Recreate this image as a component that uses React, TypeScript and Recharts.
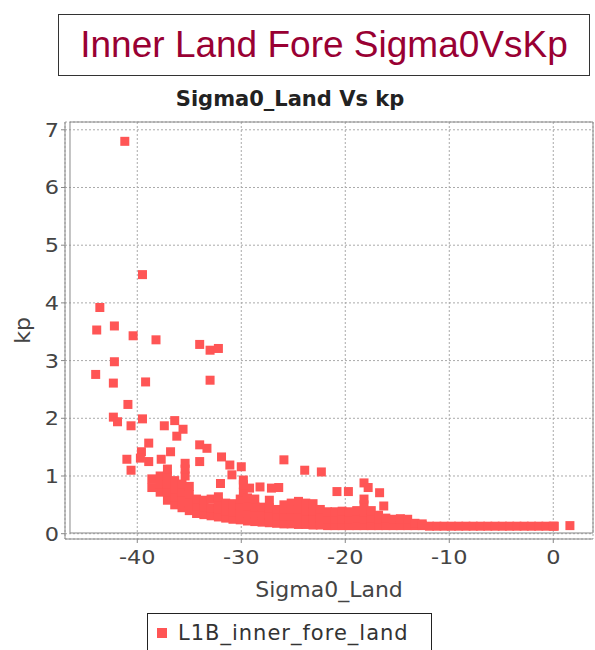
import React from "react"
import { ScatterChart, Scatter, XAxis, YAxis, CartesianGrid, ReferenceArea, Legend } from "recharts"

// axis ticks
const xTicks = [-40, -30, -20, -10, 0]
const yTicks = [0, 1, 2, 3, 4, 5, 6, 7]

// isolated points [sigma0, kp]
const outlierPoints: [number, number][] = [
  [-41.2, 6.8], [-39.5, 4.49], [-43.6, 3.92], [-43.9, 3.53], [-42.2, 3.6],
  [-40.4, 3.43], [-38.2, 3.36], [-34.0, 3.28], [-33.0, 3.18], [-32.2, 3.21],
  [-42.2, 2.98], [-44.0, 2.76], [-42.3, 2.61], [-39.2, 2.63], [-33.0, 2.66],
  [-40.9, 2.24], [-42.3, 2.02], [-41.9, 1.94], [-40.6, 1.87], [-39.5, 1.99],
  [-37.4, 1.87], [-36.4, 1.96], [-35.6, 1.81], [-36.2, 1.69], [-38.9, 1.57],
  [-39.6, 1.42], [-39.7, 1.31], [-41.0, 1.29], [-38.9, 1.25], [-40.6, 1.1],
  [-37.7, 1.29], [-36.8, 1.42], [-35.4, 1.22], [-34.0, 1.54], [-33.3, 1.48],
  [-34.0, 1.25], [-31.9, 1.33], [-31.1, 1.19], [-30.9, 1.02], [-30.0, 1.16],
  [-32.0, 0.87], [-29.8, 0.93], [-29.2, 0.79], [-27.1, 0.79], [-28.2, 0.81],
  [-26.4, 0.8], [-25.9, 1.28], [-23.9, 1.1], [-22.3, 1.07], [-20.8, 0.73],
  [-19.7, 0.73], [-18.2, 0.88], [-17.8, 0.8], [-16.7, 0.71], [-16.3, 0.48],
]

// dense cloud
const massPoints: [number, number][] = [
  [-38.6, 0.8], [-38.6, 0.95],
  [-37.8, 0.72], [-37.8, 0.86], [-37.8, 1.0],
  [-37.1, 0.58], [-37.1, 0.72], [-37.1, 0.86], [-37.1, 1.0], [-37.1, 1.12],
  [-36.4, 0.5], [-36.4, 0.64], [-36.4, 0.78], [-36.4, 0.92],
  [-35.7, 0.45], [-35.7, 0.58], [-35.7, 0.72], [-35.7, 0.86],
  [-35.4, 1.0], [-35.4, 1.12],
  [-35.0, 0.4], [-35.0, 0.54], [-35.0, 0.68], [-35.0, 0.82],
  [-34.3, 0.35], [-34.3, 0.48], [-34.3, 0.6],
  [-33.6, 0.33], [-33.6, 0.46], [-33.6, 0.58],
  [-32.9, 0.31], [-32.9, 0.45], [-32.9, 0.6],
  [-32.2, 0.29], [-32.2, 0.42], [-32.2, 0.55], [-32.2, 0.64],
  [-31.5, 0.27], [-31.5, 0.4], [-31.5, 0.53],
  [-30.8, 0.25], [-30.8, 0.38], [-30.8, 0.52],
  [-30.1, 0.24], [-30.1, 0.37], [-30.1, 0.5], [-30.1, 0.6],
  [-29.8, 0.72], [-29.8, 0.85],
  [-29.4, 0.22], [-29.4, 0.35], [-29.4, 0.48], [-29.4, 0.62],
  [-28.7, 0.21], [-28.7, 0.34], [-28.7, 0.47], [-28.7, 0.6],
  [-28.0, 0.2], [-28.0, 0.33], [-28.0, 0.46],
  [-27.3, 0.19], [-27.3, 0.32], [-27.3, 0.45], [-27.3, 0.58],
  [-26.6, 0.18], [-26.6, 0.3], [-26.6, 0.42],
  [-25.9, 0.17], [-25.9, 0.3], [-25.9, 0.42], [-25.9, 0.5],
  [-25.2, 0.17], [-25.2, 0.3], [-25.2, 0.42], [-25.2, 0.53],
  [-24.5, 0.16], [-24.5, 0.29], [-24.5, 0.42], [-24.5, 0.56],
  [-23.8, 0.16], [-23.8, 0.28], [-23.8, 0.4], [-23.8, 0.53],
  [-23.1, 0.15], [-23.1, 0.28], [-23.1, 0.4], [-23.1, 0.52],
  [-22.4, 0.15], [-22.4, 0.28], [-22.4, 0.42],
  [-21.7, 0.14], [-21.7, 0.26], [-21.7, 0.38],
  [-21.0, 0.14], [-21.0, 0.26], [-21.0, 0.38],
  [-20.3, 0.14], [-20.3, 0.26], [-20.3, 0.39],
  [-19.6, 0.14], [-19.6, 0.26], [-19.6, 0.38],
  [-18.9, 0.14], [-18.9, 0.27], [-18.9, 0.4],
  [-18.2, 0.14], [-18.2, 0.26], [-18.2, 0.38], [-18.2, 0.5], [-18.2, 0.6],
  [-17.5, 0.14], [-17.5, 0.27], [-17.5, 0.4],
  [-16.8, 0.14], [-16.8, 0.26], [-16.8, 0.32],
  [-16.1, 0.14], [-16.1, 0.27],
  [-15.4, 0.14], [-15.4, 0.25],
  [-14.7, 0.14], [-14.7, 0.26],
  [-14.0, 0.14], [-14.0, 0.25],
  [-13.3, 0.14], [-13.3, 0.18],
  [-12.6, 0.14], [-12.6, 0.17],
]

// flat band near zero kp
const floorPoints: [number, number][] = [
  [-11.9, 0.13], [-11.2, 0.13], [-10.5, 0.13], [-9.8, 0.13], [-9.1, 0.13],
  [-8.4, 0.13], [-7.7, 0.13], [-7.0, 0.13], [-6.3, 0.13], [-5.6, 0.13],
  [-4.9, 0.13], [-4.2, 0.13], [-3.5, 0.13], [-2.8, 0.13], [-2.1, 0.13],
  [-1.4, 0.13], [-0.7, 0.13], [0.0, 0.13], [0.1, 0.13], [1.6, 0.14],
]

const points = [...outlierPoints, ...massPoints, ...floorPoints].map(([sigma0, kp]) => ({ sigma0, kp }))

const RED = "#ff5555"
const AXIS = "#888"
const FONT = "'DejaVu Sans', sans-serif"

const Square = (props: any) => {
  const { cx, cy } = props
  if (cx == null || cy == null) return null
  return <rect x={cx - 4.5} y={cy - 4.5} width={9} height={9} fill={RED} />
}

const XTick = ({ x, y, payload }: any) => (
  <g transform={`translate(${x},${y})`}>
    <text x={0} y={0} dy={19} textAnchor="middle" fontSize={19} fill="#444" fontFamily={FONT} transform="scale(1.18,1)">
      {payload.value}
    </text>
  </g>
)

const YTick = ({ x, y, payload }: any) => (
  <g transform={`translate(${x},${y})`}>
    <text x={0} y={0} dy={7} textAnchor="end" fontSize={19} fill="#444" fontFamily={FONT} transform="scale(1.18,1)">
      {payload.value}
    </text>
  </g>
)

const LegendBox = () => (
  <div
    style={{
      border: "1px solid #222",
      height: 40,
      width: 285,
      boxSizing: "border-box",
      display: "flex",
      alignItems: "center",
      paddingLeft: 9,
      fontFamily: FONT,
      fontSize: 21,
      letterSpacing: 1,
      color: "#333",
      background: "#fff",
    }}
  >
    <span style={{ display: "inline-block", width: 10, height: 10, background: RED, marginRight: 11 }} />
    L1B_inner_fore_land
  </div>
)

export default function App() {
  return (
    <div style={{ position: "absolute", left: 0, top: 0, width: 595, height: 650, background: "#fff", overflow: "hidden" }}>
      <div
        style={{
          position: "absolute",
          left: 58,
          top: 14,
          width: 532,
          height: 62,
          boxSizing: "border-box",
          border: "1px solid #333",
          display: "flex",
          alignItems: "center",
          justifyContent: "center",
          fontFamily: "'Liberation Sans', Arial, sans-serif",
          fontSize: 37,
          color: "#990033",
        }}
      >
        Inner Land Fore Sigma0VsKp
      </div>
      <div
        style={{
          position: "absolute",
          left: 0,
          top: 89,
          width: 580,
          textAlign: "center",
          fontFamily: FONT,
          fontWeight: "bold",
          fontSize: 21,
          lineHeight: "21px",
          color: "#222",
        }}
      >
        Sigma0_Land Vs kp
      </div>
      <ScatterChart width={595} height={650} margin={{ top: 122, right: 2, bottom: 51, left: 0 }}>
        <CartesianGrid stroke="#aaa" strokeDasharray="2 2" />
        <XAxis
          type="number"
          dataKey="sigma0"
          domain={[-46.95, 3.82]}
          ticks={xTicks}
          allowDataOverflow
          height={60}
          stroke={AXIS}
          tickSize={4}
          tick={<XTick />}
          label={{ value: "Sigma0_Land", position: "insideBottom", offset: 2, fontSize: 22, fill: "#444", fontFamily: FONT }}
        />
        <YAxis
          type="number"
          dataKey="kp"
          domain={[-0.092, 7.135]}
          ticks={yTicks}
          allowDataOverflow
          width={65}
          stroke={AXIS}
          tickSize={4}
          tick={<YTick />}
          label={{
            value: "kp",
            angle: -90,
            position: "insideLeft",
            offset: 22,
            fontSize: 22,
            fill: "#444",
            fontFamily: FONT,
            style: { textAnchor: "middle" },
          }}
        />
        <ReferenceArea x1={-46.47} x2={3.82} y1={0.012} y2={7.135} fill="none" fillOpacity={0} stroke={AXIS} strokeWidth={1} />
        <Legend
          layout="horizontal"
          verticalAlign="middle"
          align="center"
          content={<LegendBox />}
          wrapperStyle={{ left: 147, top: 613, width: 285, height: 40 }}
        />
        <Scatter name="L1B_inner_fore_land" data={points} fill={RED} shape={<Square />} isAnimationActive={false} />
      </ScatterChart>
    </div>
  )
}
